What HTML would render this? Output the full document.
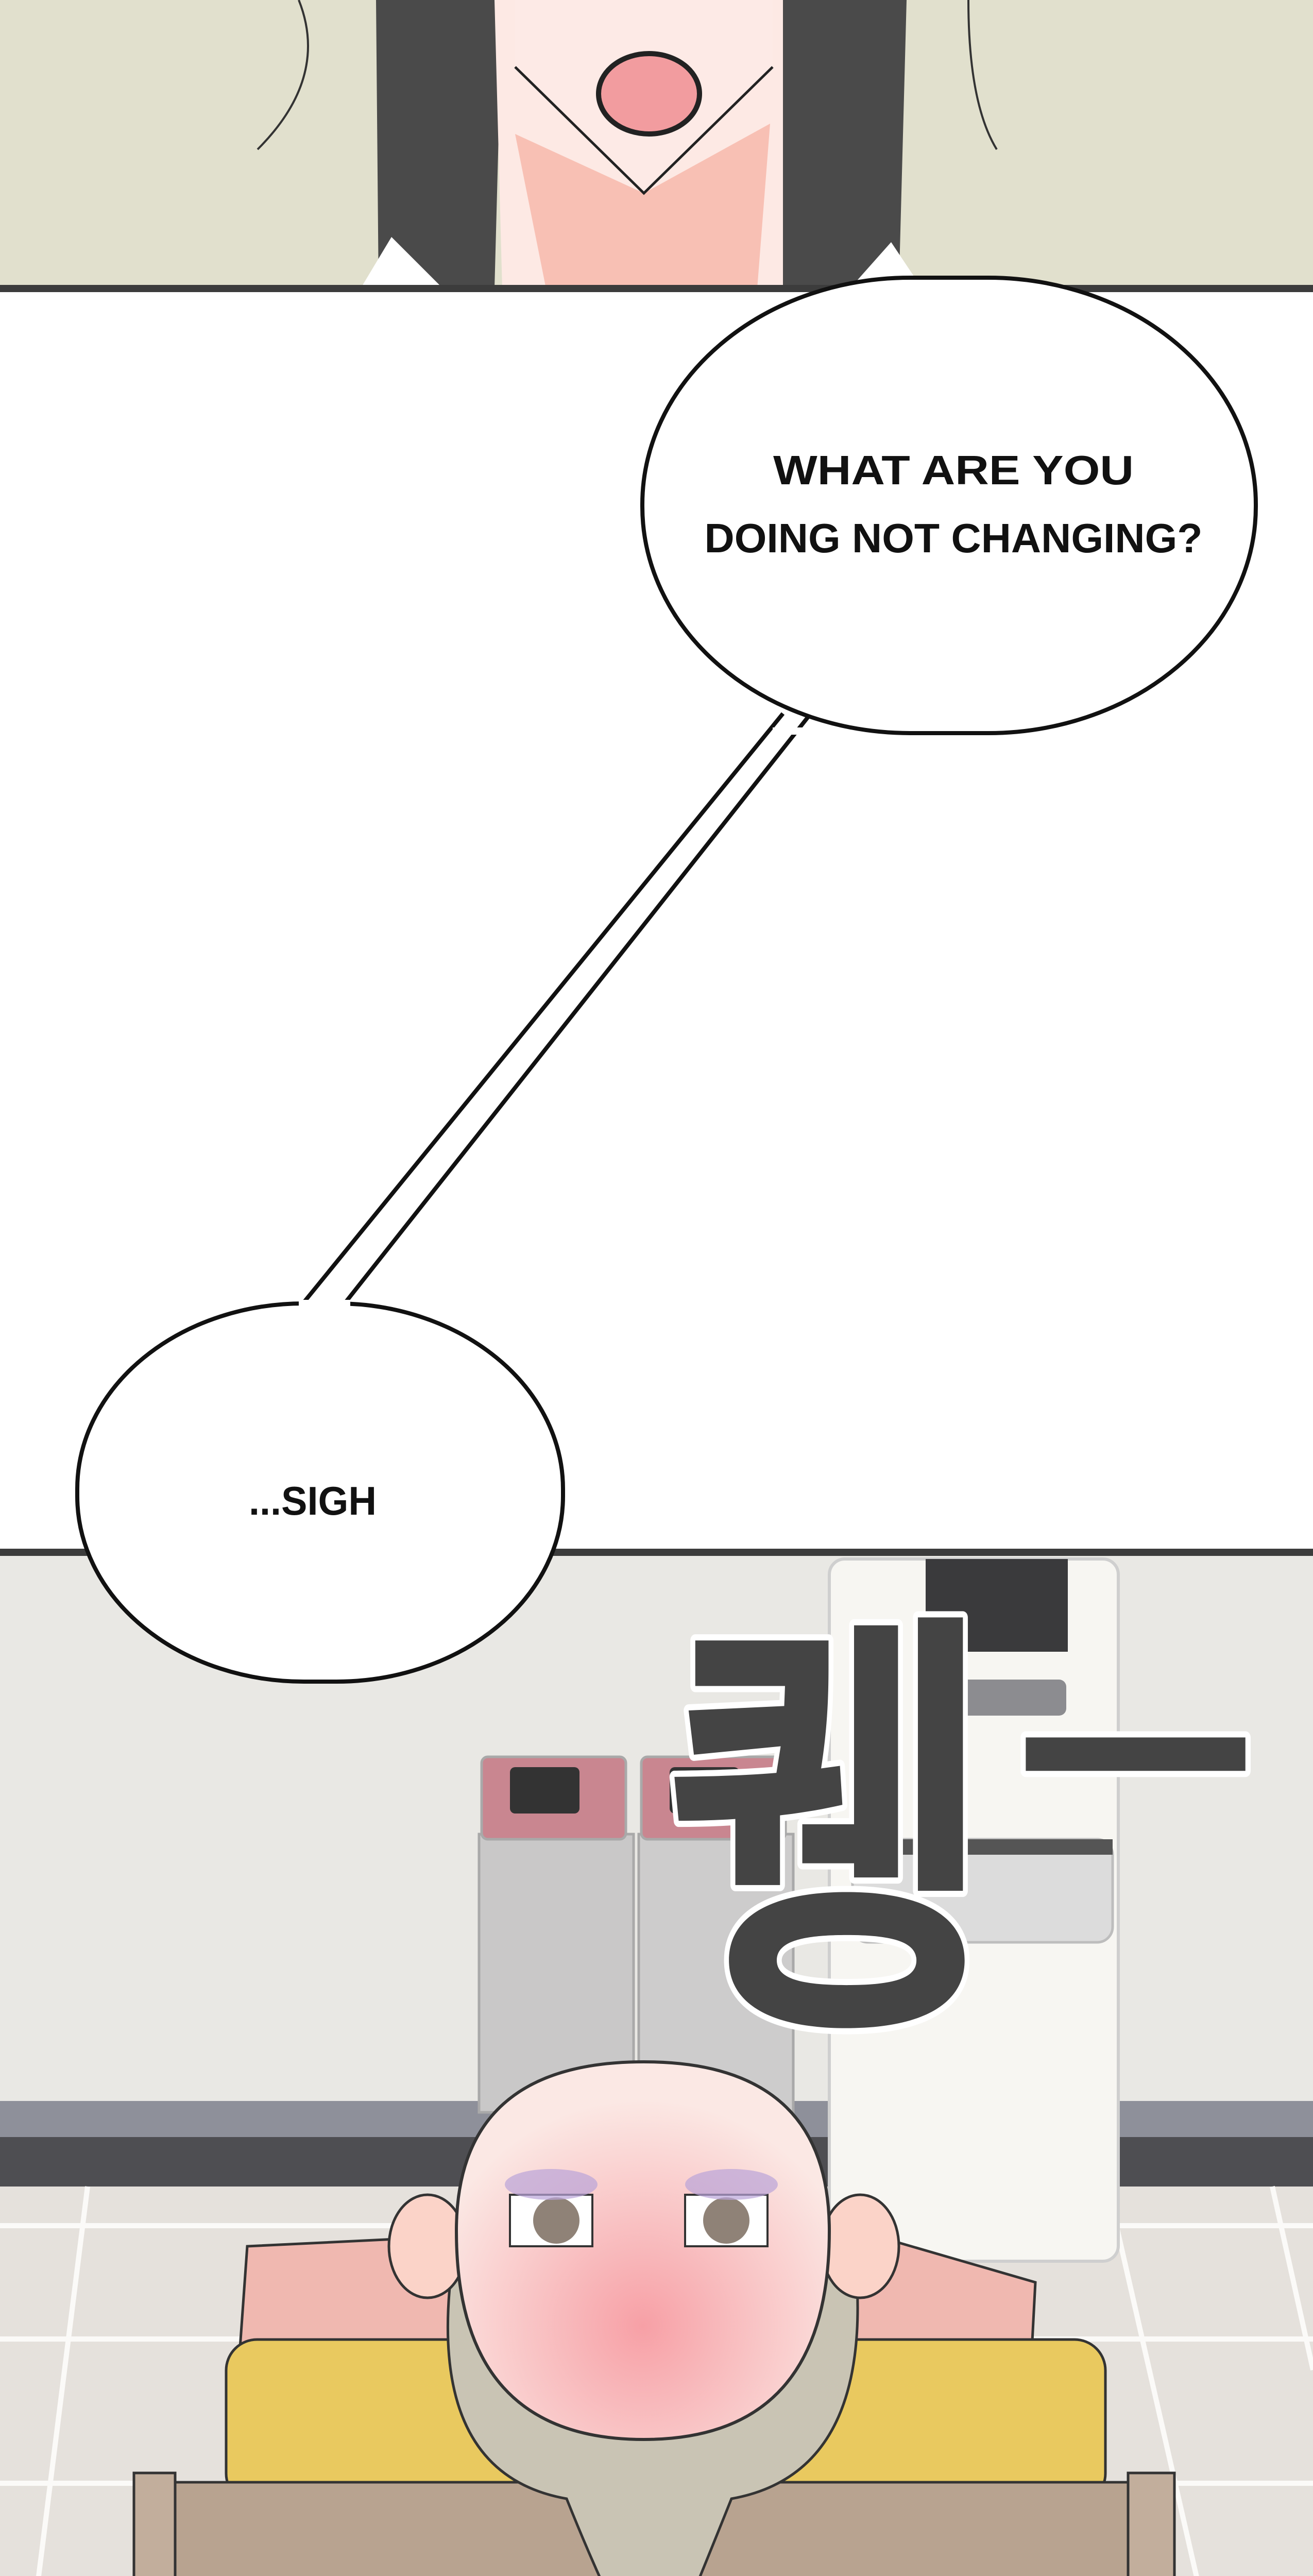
<!DOCTYPE html>
<html><head><meta charset="utf-8"><style>
html,body{margin:0;padding:0;background:#fff;width:2549px;height:5120px;overflow:hidden}
svg{display:block}
</style></head><body>
<svg width="2549" height="5120" viewBox="0 0 2549 5120" xmlns="http://www.w3.org/2000/svg">
<!-- top panel -->
<rect x="0" y="0" width="2549" height="560" fill="#e1e0cd"/>
<path d="M730 0 L975 0 L960 560 L735 560 Z" fill="#4a4a4a"/>
<path d="M1515 0 L1760 0 L1745 560 L1510 560 Z" fill="#4a4a4a"/>
<path d="M960 0 L1520 0 L1520 560 L975 560 Z" fill="#fde9e4"/>
<path d="M1000 260 L1250 375 L1495 240 L1470 560 L1060 560 Z" fill="#f8c0b4"/>
<path d="M1000 130 L1250 375 L1500 130 L1500 0 L1000 0 Z" fill="#fdeae6"/>
<path d="M1000 130 L1250 375 L1500 130" fill="none" stroke="#222" stroke-width="5"/>
<ellipse cx="1260" cy="182" rx="98" ry="78" fill="#f29c9f" stroke="#222" stroke-width="10"/>
<path d="M760 460 L700 560 L860 560 Z" fill="#fff"/>
<path d="M1730 470 L1790 560 L1650 560 Z" fill="#fff"/>
<path d="M580 0 Q640 150 500 290" fill="none" stroke="#333" stroke-width="4"/>
<path d="M1880 0 Q1880 200 1935 290" fill="none" stroke="#333" stroke-width="4"/>
<rect x="0" y="553" width="2549" height="14" fill="#3c3c3c"/>
<!-- white panel -->
<rect x="0" y="567" width="2549" height="2441" fill="#fff"/>
<rect x="0" y="3006" width="2549" height="14" fill="#3c3c3c"/>
<!-- bottom panel -->
<rect x="0" y="3020" width="2549" height="2100" fill="#e9e8e4"/>
<rect x="0" y="4078" width="2549" height="70" fill="#8e909a"/>
<rect x="0" y="4148" width="2549" height="96" fill="#4e4e52"/>
<rect x="0" y="4244" width="2549" height="876" fill="#e5e1dc"/>
<g stroke="#fbfaf8" stroke-width="10">
<line x1="0" y1="4320" x2="2549" y2="4320"/><line x1="0" y1="4540" x2="2549" y2="4540"/><line x1="0" y1="4820" x2="2549" y2="4820"/>
<line x1="170" y1="4244" x2="60" y2="5120"/><line x1="2150" y1="4244" x2="2350" y2="5120"/><line x1="2470" y1="4244" x2="2549" y2="4600"/>
</g>
<!-- dispenser -->
<rect x="1610" y="3026" width="561" height="1363" rx="30" fill="#f7f6f2" stroke="#cfcfcf" stroke-width="6"/>
<rect x="1797" y="3026" width="276" height="180" fill="#3a3a3c"/>
<rect x="1780" y="3260" width="290" height="70" rx="14" fill="#8c8c90"/>
<rect x="1655" y="3570" width="505" height="200" rx="30" fill="#dcdcdc" stroke="#bdbdbd" stroke-width="5"/>
<rect x="1655" y="3570" width="505" height="30" fill="#555"/>
<!-- bins -->
<g stroke="#a9a9a9" stroke-width="5">
<rect x="930" y="3560" width="300" height="540" fill="#c9c8c8"/>
<rect x="1240" y="3560" width="300" height="540" fill="#cdcccc"/>
<rect x="935" y="3410" width="280" height="160" rx="12" fill="#c98690"/>
<rect x="1245" y="3410" width="280" height="160" rx="12" fill="#c98690"/>
</g>
<rect x="990" y="3430" width="135" height="90" rx="10" fill="#333"/>
<rect x="1300" y="3430" width="135" height="90" rx="10" fill="#333"/>
<!-- box, cushion, clothes -->
<path d="M480 4360 L1100 4330 L1700 4340 L2010 4430 L2000 4620 L460 4640 Z" fill="#f0b8b0" stroke="#333" stroke-width="5"/>
<rect x="439" y="4541" width="1707" height="320" rx="60" fill="#e9c95f" stroke="#333" stroke-width="5"/>
<rect x="260" y="4818" width="2016" height="302" fill="#b8a390" stroke="#333" stroke-width="5"/>
<rect x="2190" y="4800" width="90" height="320" fill="#c2ae9c" stroke="#333" stroke-width="5"/>
<rect x="260" y="4800" width="80" height="320" fill="#c2ae9c" stroke="#333" stroke-width="5"/>
<!-- hair -->
<path d="M880 4380 Q820 4800 1100 4850 Q1160 5000 1220 5120 L1310 5120 Q1360 5000 1420 4850 Q1700 4800 1660 4380 Z" fill="#c9c4b4" stroke="#333" stroke-width="5"/>
<!-- head -->
<ellipse cx="830" cy="4360" rx="75" ry="100" fill="#fbd3c8" stroke="#333" stroke-width="5"/>
<ellipse cx="1670" cy="4360" rx="75" ry="100" fill="#fbd3c8" stroke="#333" stroke-width="5"/>
<defs><radialGradient id="fg" cx="0.5" cy="0.7" r="0.6"><stop offset="0" stop-color="#f7a0a6"/><stop offset="1" stop-color="#fbe8e4"/></radialGradient></defs>
<path d="M886 4330 Q886 4002 1250 4002 Q1610 4002 1610 4330 Q1610 4735 1250 4735 Q886 4735 886 4330 Z" fill="url(#fg)" stroke="#333" stroke-width="6"/>
<rect x="990" y="4260" width="160" height="100" fill="#fff" stroke="#333" stroke-width="4"/>
<rect x="1330" y="4260" width="160" height="100" fill="#fff" stroke="#333" stroke-width="4"/>
<circle cx="1080" cy="4310" r="45" fill="#8f8277"/>
<circle cx="1410" cy="4310" r="45" fill="#8f8277"/>
<ellipse cx="1070" cy="4240" rx="90" ry="30" fill="#b9a4d9" opacity="0.7"/>
<ellipse cx="1420" cy="4240" rx="90" ry="30" fill="#b9a4d9" opacity="0.7"/>
<!-- bubbles -->
<path d="M1520 1385 L588 2535 L669 2535 L1570 1390 Z" fill="#fff"/>
<line x1="1520" y1="1385" x2="588" y2="2530" stroke="#111" stroke-width="8"/>
<line x1="1570" y1="1390" x2="669" y2="2530" stroke="#111" stroke-width="8"/>
<rect x="1247" y="539" width="1191" height="884" rx="520" ry="440" fill="#fff" stroke="#111" stroke-width="8"/>
<path d="M1500 1419 L1580 1419" stroke="#fff" stroke-width="14"/>
<rect x="150" y="2530" width="943" height="734" rx="440" ry="360" fill="#fff" stroke="#111" stroke-width="8"/>
<path d="M580 2530 L680 2530" stroke="#fff" stroke-width="14"/>
<g font-family="Liberation Sans, sans-serif" font-weight="bold" fill="#111" text-anchor="middle">
<text x="1851" y="940" font-size="80" textLength="700" lengthAdjust="spacingAndGlyphs">WHAT ARE YOU</text>
<text x="1851" y="1072" font-size="80" textLength="967" lengthAdjust="spacingAndGlyphs">DOING NOT CHANGING?</text>
<text x="607" y="2940" font-size="78" textLength="248" lengthAdjust="spacingAndGlyphs">...SIGH</text>
</g>
<!-- SFX -->
<g font-family="Liberation Sans, 'Noto Sans CJK KR', sans-serif" font-weight="bold" fill="#444" stroke="#fff" stroke-width="24" paint-order="stroke" stroke-linejoin="round">
<text x="1290" y="3860" font-size="860" transform="translate(1290 0) scale(0.8 1) translate(-1290 0)">퀭</text>
<text x="1970" y="3640" font-size="600" transform="translate(1970 0) scale(0.85 1) translate(-1970 0)">ㅡ</text>
</g>
</svg>
</body></html>
